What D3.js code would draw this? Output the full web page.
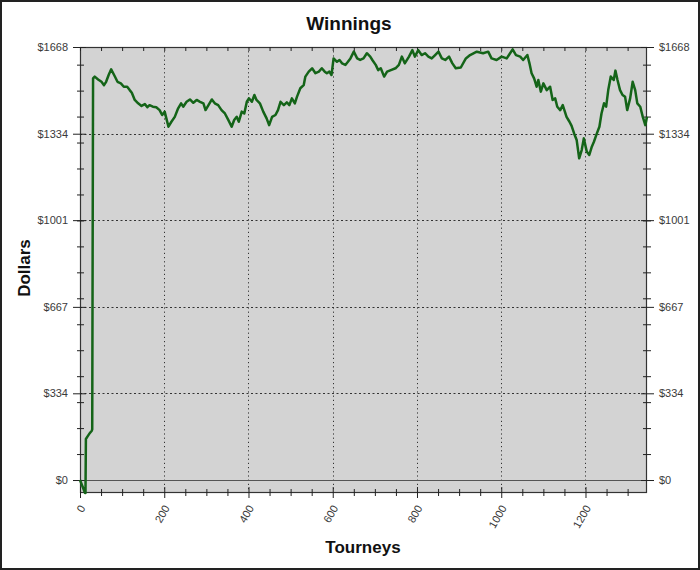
<!DOCTYPE html>
<html><head><meta charset="utf-8">
<script src="https://cdn.jsdelivr.net/npm/d3@7/dist/d3.min.js"></script>
<style>body{margin:0;background:#fff}text{font-family:"Liberation Sans",Arial,sans-serif}</style>
</head><body><svg id="c" width="700" height="570"></svg>
<script>
const tourneys=[0,6,12,13,14,18,22,24,28,29,31,35,43,51,57,62,68,74,81,89,97,104,112,118,123,130,138,146,154,160,165,173,181,189,195,201,205,210,217,225,233,240,245,253,261,269,277,285,293,298,305,313,320,328,336,344,352,360,366,372,377,384,390,396,401,408,414,419,427,435,443,449,456,464,470,476,484,491,497,503,510,515,523,531,535,543,551,559,567,574,581,586,592,597,602,610,616,622,630,636,642,650,658,665,673,681,689,694,702,708,714,722,729,738,749,757,764,771,781,789,795,803,811,819,827,835,843,851,859,867,876,884,892,904,916,926,942,957,969,977,989,1001,1013,1021,1027,1035,1045,1052,1062,1067,1072,1078,1084,1088,1094,1100,1108,1116,1122,1128,1133,1140,1146,1151,1155,1162,1167,1173,1179,1185,1191,1196,1203,1209,1215,1220,1227,1233,1238,1244,1249,1254,1260,1267,1271,1276,1282,1288,1294,1299,1306,1312,1318,1323,1330,1336,1342,1346];
const dollars=[0,-25,-50,-50,158,168,178,182,190,195,1547,1554,1543,1534,1521,1534,1560,1582,1560,1534,1528,1515,1515,1502,1492,1464,1451,1441,1448,1436,1444,1438,1436,1425,1406,1419,1393,1361,1380,1399,1432,1451,1438,1457,1466,1453,1464,1457,1451,1425,1444,1466,1451,1444,1425,1412,1387,1361,1387,1399,1380,1419,1412,1457,1470,1457,1483,1464,1451,1419,1393,1367,1399,1406,1425,1457,1444,1455,1444,1470,1451,1476,1509,1521,1554,1573,1586,1567,1573,1586,1573,1567,1573,1560,1624,1611,1618,1605,1599,1611,1624,1650,1624,1618,1624,1644,1631,1618,1599,1579,1586,1554,1573,1579,1586,1599,1631,1605,1631,1656,1631,1656,1637,1644,1631,1624,1637,1650,1624,1618,1631,1605,1586,1589,1624,1637,1650,1644,1650,1624,1618,1631,1624,1644,1659,1637,1631,1618,1637,1605,1567,1547,1515,1541,1496,1528,1502,1515,1464,1470,1438,1425,1444,1419,1399,1380,1364,1335,1310,1239,1271,1316,1265,1252,1284,1303,1335,1361,1412,1451,1438,1502,1554,1541,1577,1541,1502,1483,1476,1425,1470,1534,1502,1451,1438,1399,1367,1399];
const yMajorTicks=[0,334,667,1001,1334,1668];
const yMinorTicks=[100,200,300,400,500,600,700,800,900,1000,1100,1200,1300,1400,1500,1600];
const xMajorTicks=[0,200,400,600,800,1000,1200];
const xMinorTicks=[50,100,150,250,300,350,450,500,550,650,700,750,850,900,950,1050,1100,1150,1250,1300];

const svg=d3.select("#c");
const L=80,R=647,T=47,B=493;
const x=d3.scaleLinear().domain([0,1346]).range([L,R]);
const y=d3.scaleLinear().domain([-50,1668]).range([B,T]);

svg.append("rect").attr("x",1).attr("y",1).attr("width",698).attr("height",568)
  .attr("fill","#fff").attr("stroke","#222").attr("stroke-width",2);
svg.append("rect").attr("x",L).attr("y",T).attr("width",R-L).attr("height",B-T)
  .attr("fill","#d3d3d3");

// grid
svg.append("g").selectAll("line").data(xMajorTicks.filter(d=>d>0)).join("line")
  .attr("x1",d=>Math.round(x(d))+0.5).attr("x2",d=>Math.round(x(d))+0.5).attr("y1",T).attr("y2",B)
  .attr("stroke","#333").attr("stroke-dasharray","1.2,3");
svg.append("g").selectAll("line").data(yMajorTicks.filter(d=>d>0&&d<1668)).join("line")
  .attr("x1",L).attr("x2",R).attr("y1",d=>Math.round(y(d))+0.5).attr("y2",d=>Math.round(y(d))+0.5)
  .attr("stroke","#333").attr("stroke-dasharray","2,2.5");
// zero line
svg.append("line").attr("x1",73).attr("x2",654).attr("y1",Math.round(y(0))+0.5).attr("y2",Math.round(y(0))+0.5)
  .attr("stroke","#555").attr("stroke-width",1.2);

// frame
svg.append("rect").attr("x",L+0.5).attr("y",T+0.5).attr("width",R-L-1).attr("height",B-T-1)
  .attr("fill","none").attr("stroke","#333").attr("stroke-width",1.2);

const fmt=d=>"$"+d;
// left axis
const gl=svg.append("g").attr("transform",`translate(${L},0)`)
  .call(d3.axisLeft(y).tickValues(yMajorTicks).tickFormat(fmt).tickSize(7).tickPadding(5));
gl.select(".domain").remove();
gl.selectAll(".tick line").attr("x1",6).attr("stroke","#222");
gl.selectAll(".tick text").attr("font-size",11).attr("fill","#3a3a3a");
const glm=svg.append("g").attr("transform",`translate(${L},0)`)
  .call(d3.axisLeft(y).tickValues(yMinorTicks).tickFormat("").tickSize(3));
glm.select(".domain").remove();
glm.selectAll(".tick line").attr("x1",4).attr("stroke","#222");
// right axis
const gr=svg.append("g").attr("transform",`translate(${R},0)`)
  .call(d3.axisRight(y).tickValues(yMajorTicks).tickFormat(fmt).tickSize(7).tickPadding(5));
gr.select(".domain").remove();
gr.selectAll(".tick line").attr("x1",-6).attr("stroke","#222");
gr.selectAll(".tick text").attr("font-size",11).attr("fill","#3a3a3a");
const grm=svg.append("g").attr("transform",`translate(${R},0)`)
  .call(d3.axisRight(y).tickValues(yMinorTicks).tickFormat("").tickSize(4));
grm.select(".domain").remove();
grm.selectAll(".tick line").attr("x1",-4).attr("stroke","#222");
// bottom axis
const gb=svg.append("g").attr("transform",`translate(0,${B})`)
  .call(d3.axisBottom(x).tickValues(xMajorTicks).tickFormat(d3.format("d")).tickSize(5));
gb.select(".domain").remove();
gb.selectAll(".tick line").attr("y1",-6).attr("stroke","#222");
gb.selectAll(".tick text").attr("font-size",11).attr("fill","#3a3a3a")
  .attr("text-anchor","end").attr("x",null).attr("y",null).attr("dy","0.35em")
  .attr("transform","translate(2,13) rotate(-60)");
const gbm=svg.append("g").attr("transform",`translate(0,${B})`)
  .call(d3.axisBottom(x).tickValues(xMinorTicks).tickFormat("").tickSize(3));
gbm.select(".domain").remove();
gbm.selectAll(".tick line").attr("y1",-4).attr("stroke","#222");
// top axis
const gt=svg.append("g").attr("transform",`translate(0,${T})`)
  .call(d3.axisTop(x).tickValues(xMajorTicks.concat(xMinorTicks)).tickFormat("").tickSize(-4));
gt.select(".domain").remove();
gt.selectAll(".tick line").attr("stroke","#222");

// line
const line=d3.line().x((d,i)=>x(tourneys[i])).y(d=>y(d));
svg.append("path").datum(dollars).attr("d",line).attr("fill","none")
  .attr("stroke","#146418").attr("stroke-width",2.5).attr("stroke-linejoin","round");

// titles
svg.append("text").attr("x",349).attr("y",30).attr("text-anchor","middle")
  .attr("font-size",19).attr("font-weight","bold").attr("fill","#111").text("Winnings");
svg.append("text").attr("x",363).attr("y",553).attr("text-anchor","middle")
  .attr("font-size",17).attr("font-weight","bold").attr("fill","#111").text("Tourneys");
svg.append("text").attr("transform","translate(30,268) rotate(-90)").attr("text-anchor","middle")
  .attr("font-size",17).attr("font-weight","bold").attr("fill","#111").text("Dollars");
</script></body></html>
